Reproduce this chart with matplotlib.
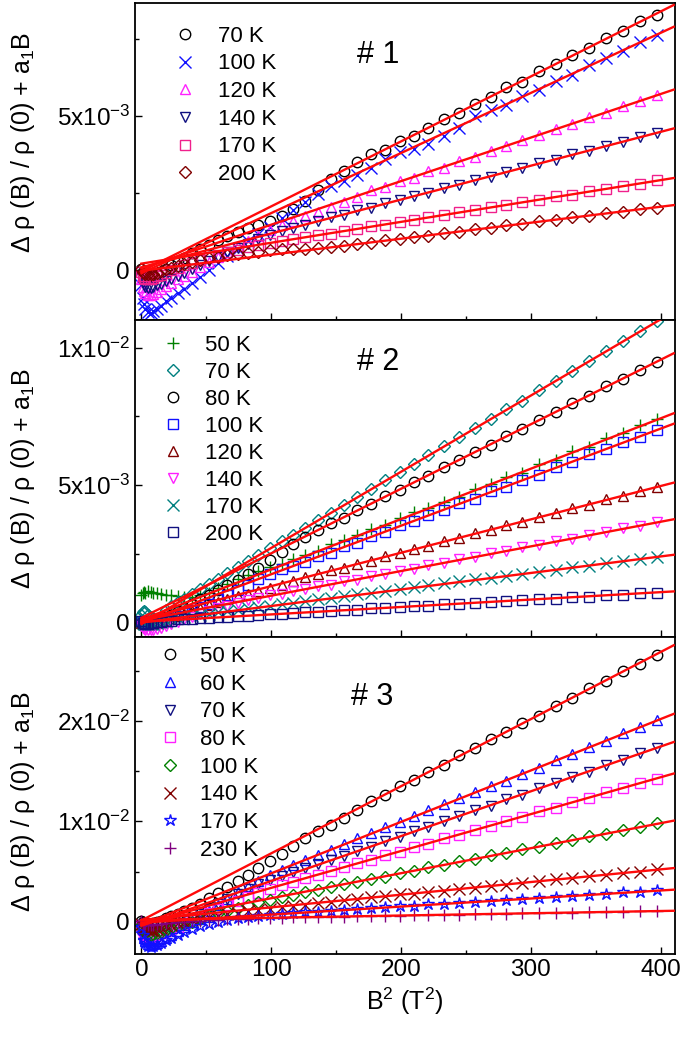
import matplotlib
matplotlib.use('Agg')
import matplotlib.pyplot as plt
from matplotlib.ticker import MultipleLocator, FixedLocator

plt.rcParams['font.family'] = ['Liberation Sans', 'DejaVu Sans']
plt.rcParams['mathtext.default'] = 'regular'

# B^2 (T^2) where the points were taken
b2 = [0, 1, 2, 3, 5, 7, 9, 12, 15, 19, 23, 28, 33, 39, 45, 52, 59, 66, 74, 82, 90, 99, 108, 117,
      126, 136, 146, 156, 166, 177, 188, 199, 210, 221, 233, 245, 257, 269, 281, 293, 306, 319,
      332, 345, 358, 371, 384, 397]

# sample #1, values in units of 1e-3
s1_70K = [0.05, -0.05, -0.10, -0.15, -0.20, -0.20, -0.18, -0.12, -0.05, 0.05, 0.15, 0.28, 0.40,
          0.55, 0.68, 0.82, 0.98, 1.12, 1.25, 1.38, 1.48, 1.58, 1.75, 1.98, 2.25, 2.60, 2.95, 3.22,
          3.50, 3.78, 3.90, 4.20, 4.36, 4.60, 4.92, 5.10, 5.40, 5.62, 5.93, 6.12, 6.45, 6.68, 7.00,
          7.22, 7.55, 7.76, 8.10, 8.30]
s1_100K = [-0.50, -0.90, -1.10, -1.25, -1.35, -1.38, -1.33, -1.25, -1.15, -1.02, -0.90, -0.75,
           -0.60, -0.42, -0.22, 0.00, 0.22, 0.45, 0.70, 0.95, 1.18, 1.40, 1.68, 1.95, 2.20, 2.48,
           2.72, 2.90, 3.08, 3.30, 3.60, 3.85, 3.92, 4.10, 4.35, 4.62, 5.00, 5.20, 5.35, 5.65, 5.85,
           6.15, 6.35, 6.65, 6.90, 7.10, 7.42, 7.62]
s1_120K = [-0.30, -0.55, -0.68, -0.75, -0.80, -0.80, -0.77, -0.70, -0.62, -0.52, -0.42, -0.30,
           -0.18, -0.05, 0.10, 0.25, 0.42, 0.60, 0.78, 0.95, 1.12, 1.30, 1.45, 1.60, 1.75, 1.90,
           2.05, 2.22, 2.38, 2.60, 2.70, 2.90, 3.00, 3.22, 3.33, 3.55, 3.68, 3.88, 4.02, 4.22, 4.38,
           4.58, 4.74, 4.96, 5.10, 5.33, 5.48, 5.68]
s1_140K = [-0.20, -0.40, -0.50, -0.55, -0.58, -0.57, -0.55, -0.50, -0.44, -0.36, -0.28, -0.18,
           -0.08, 0.05, 0.17, 0.30, 0.44, 0.58, 0.72, 0.86, 1.00, 1.13, 1.26, 1.38, 1.48, 1.58,
           1.72, 1.78, 1.94, 2.02, 2.18, 2.26, 2.42, 2.50, 2.67, 2.76, 2.93, 3.03, 3.20, 3.30, 3.47,
           3.58, 3.76, 3.86, 4.04, 4.15, 4.33, 4.44]
s1_170K = [-0.05, -0.18, -0.25, -0.28, -0.30, -0.28, -0.25, -0.20, -0.15, -0.08, 0.00, 0.08,
           0.16, 0.24, 0.32, 0.42, 0.50, 0.58, 0.66, 0.74, 0.82, 0.88, 0.95, 1.01, 1.07, 1.13,
           1.18, 1.28, 1.33, 1.42, 1.48, 1.57, 1.63, 1.72, 1.78, 1.88, 1.94, 2.05, 2.11, 2.21, 2.28,
           2.39, 2.45, 2.56, 2.63, 2.74, 2.81, 2.92]
s1_200K = [0.02, -0.05, -0.10, -0.12, -0.14, -0.13, -0.12, -0.08, -0.04, 0.02, 0.08, 0.14, 0.20,
           0.26, 0.32, 0.38, 0.43, 0.48, 0.52, 0.56, 0.60, 0.64, 0.67, 0.69, 0.70, 0.72, 0.76, 0.78,
           0.86, 0.89, 0.97, 1.00, 1.08, 1.12, 1.20, 1.24, 1.33, 1.37, 1.45, 1.49, 1.58, 1.63, 1.72,
           1.76, 1.85, 1.90, 1.99, 2.03]

# sample #2
s2_50K = [1.00, 1.08, 1.12, 1.10, 1.15, 1.12, 1.10, 1.08, 1.05, 1.02, 1.00, 0.97, 0.95, 0.95, 1.00,
          1.10, 1.25, 1.42, 1.60, 1.75, 1.88, 2.02, 2.15, 2.30, 2.45, 2.62, 2.85, 3.02, 3.20, 3.42,
          3.55, 3.80, 4.02, 4.18, 4.40, 4.58, 4.85, 5.05, 5.30, 5.45, 5.75, 5.92, 6.25, 6.40, 6.72,
          6.88, 7.20, 7.42]
s2_70K = [0.30, 0.40, 0.42, 0.38, 0.30, 0.22, 0.17, 0.14, 0.18, 0.45, 0.60, 0.75, 0.88, 1.05, 1.22,
          1.40, 1.60, 1.80, 2.02, 2.25, 2.46, 2.70, 2.96, 3.20, 3.46, 3.73, 4.00, 4.28, 4.56, 4.86,
          5.17, 5.47, 5.78, 6.08, 6.42, 6.74, 7.08, 7.41, 7.75, 8.07, 8.44, 8.79, 9.16, 9.51, 9.88,
          10.23, 10.60, 10.95]
s2_80K = [0.00, 0.02, 0.00, -0.02, -0.02, 0.00, 0.03, 0.08, 0.14, 0.22, 0.30, 0.42, 0.55, 0.70,
          0.85, 1.02, 1.20, 1.38, 1.56, 1.77, 2.00, 2.27, 2.56, 2.86, 3.12, 3.37, 3.62, 3.82, 4.10,
          4.31, 4.62, 4.82, 5.12, 5.34, 5.66, 5.90, 6.22, 6.47, 6.80, 7.03, 7.37, 7.64, 7.98, 8.25,
          8.59, 8.86, 9.20, 9.48]
s2_100K = [0.02, 0.00, -0.02, -0.03, -0.03, -0.02, 0.00, 0.03, 0.07, 0.12, 0.18, 0.26, 0.35, 0.45,
           0.56, 0.70, 0.85, 1.00, 1.18, 1.38, 1.58, 1.78, 1.95, 2.08, 2.20, 2.42, 2.55, 2.78, 2.90,
           3.15, 3.30, 3.55, 3.68, 3.93, 4.08, 4.35, 4.50, 4.78, 4.93, 5.20, 5.37, 5.66, 5.83, 6.12,
           6.30, 6.57, 6.75, 7.02]
s2_120K = [0.00, -0.03, -0.05, -0.06, -0.06, -0.05, -0.03, 0.00, 0.04, 0.10, 0.16, 0.24, 0.32,
           0.42, 0.52, 0.63, 0.74, 0.85, 0.96, 1.06, 1.16, 1.27, 1.39, 1.52, 1.67, 1.76, 1.91, 2.00,
           2.15, 2.26, 2.42, 2.52, 2.69, 2.79, 2.96, 3.08, 3.25, 3.37, 3.55, 3.66, 3.85, 3.98, 4.16,
           4.29, 4.48, 4.61, 4.79, 4.92]
s2_140K = [-0.10, -0.18, -0.22, -0.25, -0.27, -0.27, -0.25, -0.22, -0.18, -0.12, -0.05, 0.03,
           0.12, 0.22, 0.32, 0.42, 0.52, 0.62, 0.72, 0.82, 0.90, 1.00, 1.05, 1.16, 1.21, 1.33, 1.39,
           1.51, 1.57, 1.70, 1.76, 1.89, 1.96, 2.09, 2.17, 2.31, 2.38, 2.52, 2.60, 2.74, 2.82, 2.97,
           3.05, 3.20, 3.29, 3.43, 3.52, 3.67]
s2_170K = [0.05, 0.00, -0.03, -0.05, -0.06, -0.05, -0.03, 0.00, 0.04, 0.08, 0.13, 0.18, 0.22, 0.25,
           0.29, 0.33, 0.38, 0.42, 0.47, 0.52, 0.57, 0.62, 0.68, 0.73, 0.79, 0.85, 0.91, 0.97, 1.04,
           1.10, 1.17, 1.23, 1.30, 1.36, 1.44, 1.50, 1.58, 1.64, 1.71, 1.78, 1.86, 1.93, 2.02, 2.08,
           2.17, 2.24, 2.33, 2.40]
s2_200K = [0.05, 0.00, -0.02, -0.03, -0.03, -0.02, 0.00, 0.02, 0.04, 0.06, 0.08, 0.12, 0.13, 0.13,
           0.17, 0.18, 0.20, 0.20, 0.24, 0.25, 0.29, 0.31, 0.32, 0.36, 0.38, 0.39, 0.44, 0.46, 0.47,
           0.52, 0.55, 0.56, 0.61, 0.62, 0.67, 0.70, 0.72, 0.77, 0.78, 0.83, 0.87, 0.88, 0.94, 0.95,
           1.01, 1.02, 1.08, 1.10]

# sample #3
s3_50K = [0.10, 0.00, -0.10, -0.15, -0.20, -0.20, -0.15, -0.05, 0.10, 0.35, 0.60, 0.80, 1.05, 1.40,
          1.80, 2.35, 2.90, 3.50, 4.10, 4.70, 5.30, 6.00, 6.75, 7.50, 8.30, 9.00, 9.60, 10.35, 11.15,
          11.98, 12.62, 13.48, 14.10, 14.95, 15.62, 16.55, 17.25, 18.15, 18.85, 19.75, 20.50, 21.50,
          22.25, 23.25, 23.98, 24.98, 25.70, 26.60]
s3_60K = [-0.50, -1.20, -1.60, -1.90, -2.20, -2.30, -2.25, -2.10, -1.90, -1.60, -1.30, -0.90, -0.50,
          0.00, 0.50, 1.10, 1.70, 2.30, 2.95, 3.55, 4.10, 4.65, 5.15, 5.65, 6.15, 6.65, 7.15, 7.75,
          8.30, 8.85, 9.45, 9.95, 10.55, 11.10, 11.70, 12.30, 12.90, 13.50, 14.05, 14.72, 15.35,
          16.05, 16.68, 17.40, 18.00, 18.75, 19.35, 20.08]
s3_70K = [-0.30, -0.90, -1.30, -1.50, -1.70, -1.75, -1.70, -1.55, -1.35, -1.10, -0.85, -0.50, -0.15,
          0.30, 0.75, 1.25, 1.75, 2.25, 2.80, 3.30, 3.75, 4.20, 4.60, 5.00, 5.35, 5.75, 6.10, 6.50,
          7.05, 7.45, 8.02, 8.45, 9.02, 9.42, 10.05, 10.50, 11.10, 11.55, 12.18, 12.62, 13.30, 13.80,
          14.45, 14.95, 15.62, 16.12, 16.78, 17.30]
s3_80K = [-0.30, -0.80, -1.10, -1.30, -1.45, -1.50, -1.45, -1.30, -1.15, -0.95, -0.75, -0.50, -0.20,
          0.15, 0.50, 0.90, 1.30, 1.70, 2.10, 2.50, 2.90, 3.30, 3.65, 4.00, 4.35, 4.70, 5.05, 5.40,
          5.82, 6.15, 6.65, 6.96, 7.45, 7.78, 8.30, 8.65, 9.18, 9.52, 10.06, 10.40, 10.98, 11.36,
          11.92, 12.32, 12.88, 13.28, 13.84, 14.22]
s3_100K = [-0.30, -0.70, -0.95, -1.10, -1.25, -1.30, -1.25, -1.15, -1.00, -0.85, -0.65, -0.45,
           -0.25, 0.00, 0.25, 0.55, 0.85, 1.10, 1.40, 1.70, 1.95, 2.20, 2.45, 2.70, 2.95, 3.20, 3.45,
           3.78, 3.95, 4.30, 4.50, 4.86, 5.05, 5.40, 5.62, 6.00, 6.22, 6.60, 6.82, 7.20, 7.45, 7.84,
           8.10, 8.50, 8.74, 9.14, 9.40, 9.82]
s3_140K = [-0.20, -0.50, -0.65, -0.75, -0.85, -0.85, -0.80, -0.70, -0.60, -0.45, -0.30, -0.15,
           0.00, 0.15, 0.30, 0.45, 0.60, 0.75, 0.90, 1.05, 1.18, 1.30, 1.42, 1.55, 1.68, 1.82, 1.97,
           2.18, 2.24, 2.44, 2.52, 2.72, 2.80, 2.99, 3.09, 3.30, 3.39, 3.60, 3.69, 3.90, 4.01, 4.23,
           4.33, 4.56, 4.66, 4.88, 4.99, 5.21]
s3_170K = [-0.50, -1.30, -1.80, -2.10, -2.40, -2.50, -2.45, -2.30, -2.10, -1.85, -1.60, -1.30,
           -1.00, -0.70, -0.45, -0.20, 0.00, 0.20, 0.35, 0.48, 0.58, 0.68, 0.76, 0.84, 0.92, 1.00,
           1.08, 1.20, 1.26, 1.36, 1.43, 1.54, 1.60, 1.72, 1.79, 1.90, 1.99, 2.10, 2.18, 2.29, 2.38,
           2.50, 2.59, 2.71, 2.79, 2.92, 3.00, 3.12]
s3_230K = [0.10, -0.10, -0.20, -0.25, -0.30, -0.30, -0.28, -0.25, -0.20, -0.15, -0.10, -0.05, 0.00,
           0.05, 0.10, 0.15, 0.20, 0.24, 0.28, 0.32, 0.36, 0.40, 0.42, 0.44, 0.46, 0.48, 0.50, 0.52,
           0.54, 0.57, 0.59, 0.62, 0.64, 0.67, 0.69, 0.72, 0.75, 0.77, 0.80, 0.83, 0.86, 0.88, 0.91,
           0.94, 0.97, 1.00, 1.03, 1.06]

# linear fits (red lines): value at B^2 = 0 and at B^2 = 410
fit_x = [0, 410]
fit1 = [(-0.04, 8.61), (-0.10, 7.90), (0.06, 5.86), (0.09, 4.60), (0.21, 2.99), (-0.02, 2.11)]
fit2 = [(0.11, 7.61), (-0.05, 11.30), (0.18, 9.79), (0.0, 7.23), (0.12, 5.09), (0.09, 3.76),
        (0.01, 2.47), (0.035, 1.14)]
fit3 = [(0.13, 27.52), (-0.30, 20.69), (-0.40, 17.89), (-0.30, 14.75), (-0.15, 10.06),
        (0.17, 5.34), (-0.09, 3.19), (0.17, 1.09)]

panels = [
    dict(name='# 1', fits=fit1, ylim=(-1.62, 8.67), major=[0, 5], minor=[2.5, 7.5],
         ticklabels=['0', '5x10$^{-3}$'], title_xy=(0.45, 0.836), leg_xy=(0.072, 0.929),
         pad=0.99, spacing=0.30, lab_y=0.56,
         series=[('70 K', s1_70K, 'o', 'black'), ('100 K', s1_100K, 'x', '#1010ff'),
                 ('120 K', s1_120K, '^', '#ff20ff'), ('140 K', s1_140K, 'v', '#101080'),
                 ('170 K', s1_170K, 's', '#f0208c'), ('200 K', s1_200K, 'D', '#800000')]),
    dict(name='# 2', fits=fit2, ylim=(-0.51, 11.0), major=[0, 5, 10], minor=[2.5, 7.5],
         ticklabels=['0', '5x10$^{-3}$', '1x10$^{-2}$'], title_xy=(0.45, 0.867),
         leg_xy=(0.050, 0.952), pad=0.94, spacing=0.27, lab_y=0.5,
         series=[('50 K', s2_50K, '+', '#008000'), ('70 K', s2_70K, 'D', '#008080'),
                 ('80 K', s2_80K, 'o', 'black'), ('100 K', s2_100K, 's', '#1010ff'),
                 ('120 K', s2_120K, '^', '#800000'), ('140 K', s2_140K, 'v', '#ff20ff'),
                 ('170 K', s2_170K, 'x', '#008080'), ('200 K', s2_200K, 's', '#101080')]),
    dict(name='# 3', fits=fit3, ylim=(-3.18, 28.36), major=[0, 10, 20], minor=[5, 15, 25],
         ticklabels=['0', '1x10$^{-2}$', '2x10$^{-2}$'], title_xy=(0.44, 0.81),
         leg_xy=(0.044, 0.971), pad=0.85, spacing=0.30, lab_y=0.48,
         series=[('50 K', s3_50K, 'o', 'black'), ('60 K', s3_60K, '^', '#1010ff'),
                 ('70 K', s3_70K, 'v', '#101080'), ('80 K', s3_80K, 's', '#ff20ff'),
                 ('100 K', s3_100K, 'D', '#008000'), ('140 K', s3_140K, 'x', '#800000'),
                 ('170 K', s3_170K, '*', '#1010ff'), ('230 K', s3_230K, '+', '#800080')]),
]

fig, axes = plt.subplots(3, 1, figsize=(6.85, 10.4), dpi=100, sharex=True)
fig.subplots_adjust(left=0.197, right=0.985, top=0.997, bottom=0.083, hspace=0)

for ax, p in zip(axes, panels):
    for label, vals, mk, col in p['series']:
        ms = 7.5
        if mk == 'D':
            ms = 6
        elif mk in ('x', '+'):
            ms = 8
        elif mk == '*':
            ms = 9
        ax.plot(b2, vals, linestyle='none', marker=mk, ms=ms, mfc='none', mec=col,
                mew=1.0, label=label)
    for y0, y1 in p['fits']:
        ax.plot(fit_x, [y0, y1], color='#ff0a0a', lw=1.7, zorder=5)

    ax.set_xlim(-5, 410.8)
    ax.set_ylim(*p['ylim'])
    ax.yaxis.set_major_locator(FixedLocator(p['major']))
    ax.yaxis.set_minor_locator(FixedLocator(p['minor']))
    ax.set_yticklabels(p['ticklabels'])
    ax.xaxis.set_major_locator(MultipleLocator(100))
    ax.xaxis.set_minor_locator(MultipleLocator(50))
    ax.tick_params(which='both', direction='in', top=False, right=False, labelsize=17.5, width=1.0)
    ax.tick_params(which='major', length=5)
    ax.tick_params(which='minor', length=3)
    for sp in ax.spines.values():
        sp.set_linewidth(1.3)

    ax.set_ylabel('Δ ρ (B) / ρ (0) + a$_1$B', fontsize=18)
    ax.yaxis.set_label_coords(-0.181, p['lab_y'])
    ax.text(p['title_xy'][0], p['title_xy'][1], p['name'], transform=ax.transAxes,
            ha='center', va='center', fontsize=22)
    ax.legend(loc='upper left', bbox_to_anchor=p['leg_xy'], frameon=False, fontsize=16,
              handlelength=1.0, handletextpad=p['pad'], labelspacing=p['spacing'], borderpad=0,
              borderaxespad=0, numpoints=1)

axes[-1].set_xlabel('B$^2$ (T$^2$)', fontsize=18)

plt.savefig('out.png', dpi=100)
